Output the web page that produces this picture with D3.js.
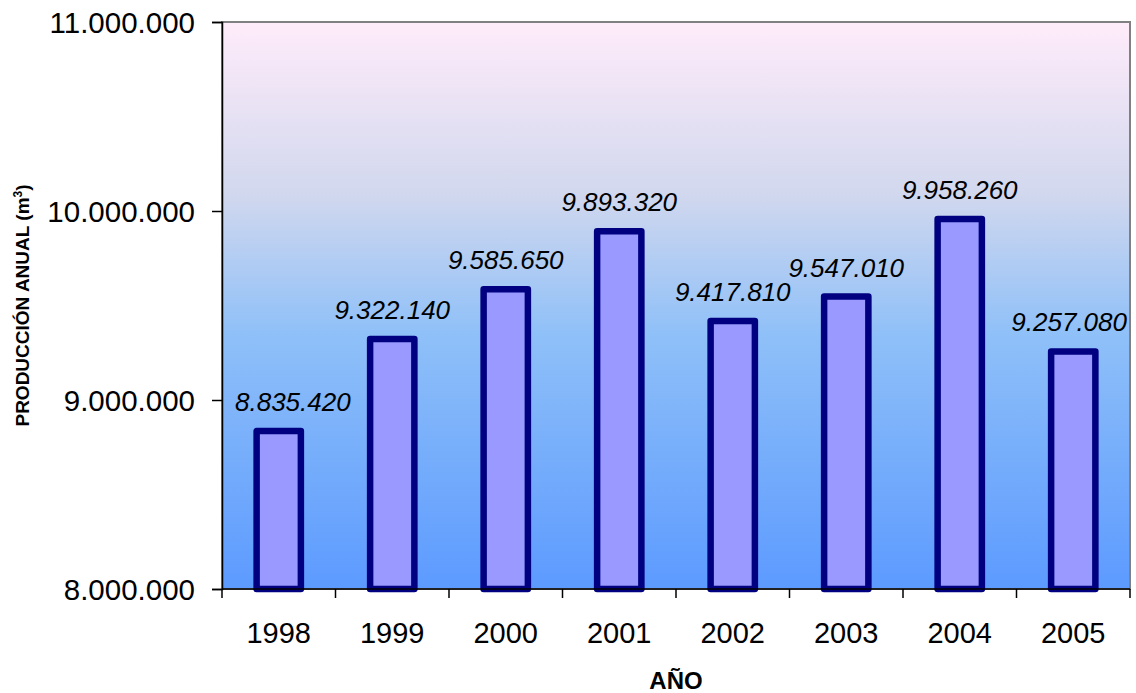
<!DOCTYPE html>
<html>
<head>
<meta charset="utf-8">
<script src="https://cdn.jsdelivr.net/npm/d3@7"></script>
<style>
  html, body { margin: 0; padding: 0; background: #fff; }
  svg { display: block; font-family: "Liberation Sans", Arial, sans-serif; }
</style>
</head>
<body>
<svg id="chart" width="1136" height="693"></svg>
<script>
const years = ["1998", "1999", "2000", "2001", "2002", "2003", "2004", "2005"];
const production = [8835420, 9322140, 9585650, 9893320, 9417810, 9547010, 9958260, 9257080];
const yTicks = [8000000, 9000000, 10000000, 11000000];
const yTitle = "PRODUCCIÓN ANUAL (m";
const xTitle = "AÑO";

const svg = d3.select("#chart");
const margin = { left: 222, right: 6, top: 22, bottom: 104 };
const W = 1136, H = 693;
const x0 = margin.left, x1 = W - margin.right, y0 = margin.top, y1 = H - margin.bottom;

const fmt = v => d3.format(",")(v).replace(/,/g, ".");

const x = d3.scaleBand().domain(years).range([x0, x1]).paddingInner(0).paddingOuter(0);
const y = d3.scaleLinear().domain([8000000, 11000000]).range([y1, y0]);

// gradient background
const defs = svg.append("defs");
const grad = defs.append("linearGradient").attr("id", "bg").attr("x1", 0).attr("y1", 0).attr("x2", 0).attr("y2", 1);
[[0, "#ffecfa"], [0.3, "#d2d8ee"], [0.55, "#8fc0f8"], [1, "#5c9aff"]].forEach(([o, c]) =>
  grad.append("stop").attr("offset", o).attr("stop-color", c));

svg.append("rect").attr("x", x0).attr("y", y0).attr("width", x1 - x0).attr("height", y1 - y0)
  .attr("fill", "url(#bg)").attr("stroke", "#808080").attr("stroke-width", 2);

// bars
const barW = x.bandwidth() * 0.39;
svg.append("g").selectAll("rect").data(production).join("rect")
  .attr("x", (d, i) => x(years[i]) + x.bandwidth() / 2 - barW / 2)
  .attr("y", d => y(d))
  .attr("width", barW)
  .attr("height", d => y(8000000) - y(d))
  .attr("fill", "#9999ff")
  .attr("stroke", "#000080")
  .attr("stroke-width", 6.5)
  .attr("stroke-linejoin", "round");

// data labels (kept inside the plot area)
const labels = svg.append("g").selectAll("text").data(production).join("text")
  .attr("x", (d, i) => x(years[i]) + x.bandwidth() / 2)
  .attr("y", d => y(d) - 20)
  .attr("text-anchor", "middle")
  .attr("font-size", 26)
  .attr("font-style", "italic")
  .attr("fill", "#000")
  .text(d => fmt(d));
labels.each(function(d, i) {
  const w = this.getComputedTextLength();
  let cx = x(years[i]) + x.bandwidth() / 2;
  cx = Math.max(cx, x0 + 13 + w / 2);
  cx = Math.min(cx, x1 - 3 - w / 2);
  d3.select(this).attr("x", cx);
});

// y axis
const yAxis = d3.axisLeft(y).tickValues(yTicks).tickFormat(fmt).tickSize(10).tickPadding(17);
const gy = svg.append("g").attr("transform", `translate(${x0},0)`).call(yAxis);
gy.select(".domain").attr("stroke", "#000").attr("stroke-width", 1.5);
gy.selectAll(".tick line").attr("stroke", "#000").attr("stroke-width", 1.5);
gy.selectAll(".tick text").attr("font-size", 29.5).attr("fill", "#000")
  .attr("font-family", "'Liberation Sans', Arial, sans-serif").attr("dy", "0.36em");

// x axis with ticks at band boundaries
const gx = svg.append("g").attr("transform", `translate(0,${y1})`);
gx.append("line").attr("x1", x0).attr("x2", x1).attr("stroke", "#000").attr("stroke-width", 1.5);
const bounds = years.map(d => x(d)).concat([x1]);
gx.selectAll("line.tk").data(bounds).join("line").attr("class", "tk")
  .attr("x1", d => d).attr("x2", d => d).attr("y1", 0).attr("y2", 9)
  .attr("stroke", "#000").attr("stroke-width", 1.5);
gx.selectAll("text").data(years).join("text")
  .attr("x", d => x(d) + x.bandwidth() / 2)
  .attr("y", 54)
  .attr("text-anchor", "middle")
  .attr("font-size", 29)
  .attr("fill", "#000")
  .text(d => d);

// titles
svg.append("text")
  .attr("x", (x0 + x1) / 2).attr("y", 689)
  .attr("text-anchor", "middle").attr("font-size", 24).attr("font-weight", "bold")
  .text(xTitle);

const yt = svg.append("text")
  .attr("transform", `translate(29,${(y0 + y1) / 2}) rotate(-90)`)
  .attr("text-anchor", "middle").attr("font-size", 19).attr("font-weight", "bold");
yt.append("tspan").text(yTitle);
yt.append("tspan").attr("font-size", 12).attr("dy", -7).text("3");
yt.append("tspan").attr("dy", 7).text(")");
</script>
</body>
</html>
